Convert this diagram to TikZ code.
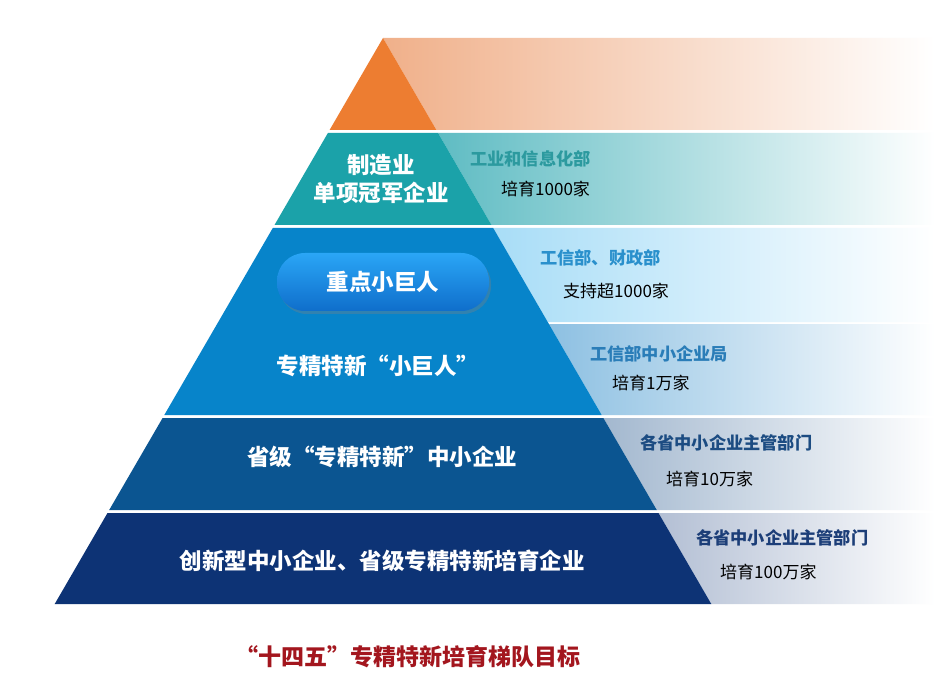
\documentclass[tikz,border=0pt]{standalone}
\usepackage{fontspec}
\setmainfont{Noto Sans CJK SC}
\usetikzlibrary{shadows}
\definecolor{orng}{HTML}{ED7D31}
\definecolor{teal1}{HTML}{1BA2A9}
\definecolor{blue1}{HTML}{0784CA}
\definecolor{blue2}{HTML}{0B5591}
\definecolor{navy1}{HTML}{0D3375}
\definecolor{porng}{HTML}{F0B08A}
\definecolor{pteal}{HTML}{5FBCC3}
\definecolor{pblueA}{HTML}{A8DDF7}
\definecolor{pblueB}{HTML}{8DC0E2}
\definecolor{pblue2}{HTML}{A3B8CF}
\definecolor{pnavy}{HTML}{B3BFD4}
\definecolor{tteal}{HTML}{2C9A9F}
\definecolor{tblueA}{HTML}{2A90CC}
\definecolor{tblueB}{HTML}{2A7DB8}
\definecolor{tblue2}{HTML}{1C4C82}
\definecolor{tnavy}{HTML}{1C3E78}
\definecolor{ttitle}{HTML}{A3161E}
\definecolor{btntop}{HTML}{2AA6F6}
\definecolor{btnbot}{HTML}{0F6ECB}
\begin{document}
\begin{tikzpicture}[x=1pt,y=-1pt,
  panel/.style={left color=#1, middle color=#1!25!white, right color=white},
  bandlabel/.style={text=white, font=\fontsize{22.5}{28}\selectfont\bfseries, align=center, inner sep=0pt},
  dept/.style={anchor=west, font=\fontsize{17.2}{20}\selectfont\bfseries, inner sep=0pt},
  count/.style={anchor=west, text=black, font=\fontsize{17}{20}\selectfont, inner sep=0pt},
  btn/.style={minimum width=212pt, minimum height=58pt, rounded corners=28pt,
    top color=btntop, bottom color=btnbot, inner sep=0pt,
    drop shadow={shadow xshift=2pt, shadow yshift=-3pt, opacity=0.35}}
]
\useasboundingbox[fill=white] (0,0) rectangle (935,695);
% orange apex
\shade[panel=porng] (383,38) -- (935,38) -- (935,130) -- (436.4,130) -- cycle;
\fill[orng] (383,38) -- (436.4,130) -- (329.6,130) -- cycle;
% teal
\shade[panel=pteal] (438.1,133) -- (935,133) -- (935,225) -- (491.5,225) -- cycle;
\fill[teal1] (327.9,133) -- (438.1,133) -- (491.5,225) -- (274.5,225) -- cycle;
% blue
\shade[panel=pblueA] (493.2,228) -- (935,228) -- (935,322) -- (547.7,322) -- cycle;
\shade[panel=pblueB] (548.9,324) -- (935,324) -- (935,415) -- (601.7,415) -- cycle;
\fill[blue1] (272.8,228) -- (493.2,228) -- (601.7,415) -- (164.3,415) -- cycle;
% dark blue
\shade[panel=pblue2] (603.4,418) -- (935,418) -- (935,510) -- (656.8,510) -- cycle;
\fill[blue2] (162.6,418) -- (603.4,418) -- (656.8,510) -- (109.2,510) -- cycle;
% navy
\shade[panel=pnavy] (658.5,513) -- (935,513) -- (935,604) -- (711.3,604) -- cycle;
\fill[navy1] (107.5,513) -- (658.5,513) -- (711.3,604) -- (54.7,604) -- cycle;

% band labels
\node[bandlabel] (l1) at (381,179) {制造业\\单项冠军企业};
\node[btn] (zd) at (383,282) {};
\node[bandlabel] (l2a) at (383,282) {重点小巨人};
\node[bandlabel] (l2b) at (378,366) {专精特新“小巨人”};
\node[bandlabel] (l3) at (382,457) {省级“专精特新”中小企业};
\node[bandlabel] (l4) at (382,561) {创新型中小企业、省级专精特新培育企业};

% right labels
\node[dept, text=tteal] (d1) at (470,159) {工业和信息化部};
\node[count] (c1) at (501,189) {培育1000家};
\node[dept, text=tblueA] (d2) at (540,258) {工信部、财政部};
\node[count] (c2) at (563,291) {支持超1000家};
\node[dept, text=tblueB] (d3) at (590,354) {工信部中小企业局};
\node[count] (c3) at (612,383) {培育1万家};
\node[dept, text=tblue2] (d4) at (640,443) {各省中小企业主管部门};
\node[count] (c4) at (666,479) {培育10万家};
\node[dept, text=tnavy] (d5) at (696,538) {各省中小企业主管部门};
\node[count] (c5) at (720,572) {培育100万家};

% title
\node[text=ttitle, font=\fontsize{23}{26}\selectfont\bfseries, inner sep=0pt] (title) at (408,657) {“十四五”专精特新培育梯队目标};
\end{tikzpicture}
\end{document}
